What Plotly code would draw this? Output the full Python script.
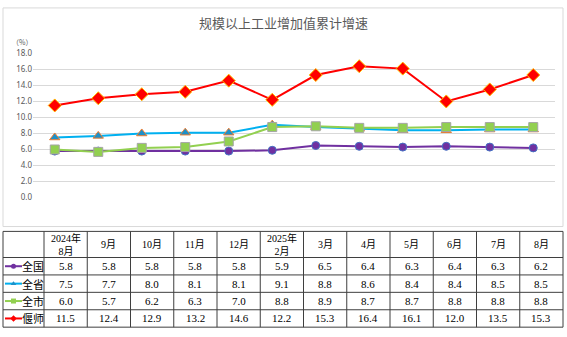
import plotly.graph_objects as go

W, H = 567, 337

# ---------------- data ----------------
months = ["2024年<br>8月", "9月", "10月", "11月", "12月", "2025年<br>2月",
          "3月", "4月", "5月", "6月", "7月", "8月"]
series_names = ["全国", "全省", "全市", "偃师"]
quanguo = [5.8, 5.8, 5.8, 5.8, 5.8, 5.9, 6.5, 6.4, 6.3, 6.4, 6.3, 6.2]
quansheng = [7.5, 7.7, 8.0, 8.1, 8.1, 9.1, 8.8, 8.6, 8.4, 8.4, 8.5, 8.5]
quanshi = [6.0, 5.7, 6.2, 6.3, 7.0, 8.8, 8.9, 8.7, 8.7, 8.8, 8.8, 8.8]
yanshi = [11.5, 12.4, 12.9, 13.2, 14.6, 12.2, 15.3, 16.4, 16.1, 12.0, 13.5, 15.3]
y_ticks = [0, 2, 4, 6, 8, 10, 12, 14, 16, 18]
title = "规模以上工业增加值累计增速"
unit = "（%）"

all_series = [quanguo, quansheng, quanshi, yanshi]

# ---------------- styles ----------------
styles = [
    dict(line="#7030A0", symbol="circle", fill="#7030A0", edge="#4472C4", size=8),
    dict(line="#00B0F0", symbol="triangle-up", fill="#1E90C8", edge="#ED7D31", size=9),
    dict(line="#92D050", symbol="square", fill="#92D050", edge="#A5A5A5", size=9),
    dict(line="#FF0000", symbol="diamond", fill="#FF0000", edge="#FFC000", size=10),
]

def fx(x):
    return x / W

def fy(y):
    return 1 - y / H

cats = [m.replace("<br>", "") for m in months]

fig = go.Figure()
for name, vals, st in zip(series_names, all_series, styles):
    fig.add_trace(go.Scatter(
        x=cats, y=vals, name=name, mode="lines+markers",
        line=dict(color=st["line"], width=2),
        marker=dict(symbol=st["symbol"], size=st["size"], color=st["fill"],
                    line=dict(color=st["edge"], width=1)),
        showlegend=False, cliponaxis=False,
    ))

# ---------------- table ----------------
tab_left, tab_right = 3, 563
col0_right = 44
ncol = len(months)
colw = (tab_right - col0_right) / ncol
col_edges = [col0_right + colw * i for i in range(ncol + 1)]
row_edges = [233, 260, 278, 296, 314, 332]

shapes = []
# outer chart border
shapes.append(dict(type="rect", xref="paper", yref="paper",
                   x0=fx(3), x1=fx(563), y0=fy(228), y1=fy(2),
                   line=dict(color="#D9D9D9", width=1)))
tcol = "#3F3F3F"
for ry in row_edges:
    shapes.append(dict(type="line", xref="paper", yref="paper",
                       x0=fx(tab_left), x1=fx(tab_right), y0=fy(ry), y1=fy(ry),
                       line=dict(color=tcol, width=1)))
for cx in [tab_left] + col_edges:
    shapes.append(dict(type="line", xref="paper", yref="paper",
                       x0=fx(cx), x1=fx(cx), y0=fy(row_edges[0]), y1=fy(row_edges[-1]),
                       line=dict(color=tcol, width=1)))

annotations = []
annotations.append(dict(text=title, xref="paper", yref="paper", x=fx(283), y=fy(17),
                        showarrow=False, xanchor="center", yanchor="middle",
                        font=dict(family="Noto Sans CJK SC", size=13, color="#595959")))
annotations.append(dict(text=unit, xref="paper", yref="paper", x=fx(22), y=fy(37),
                        showarrow=False, xanchor="center", yanchor="middle",
                        font=dict(family="Noto Sans CJK SC", size=7, color="#595959")))

serif = "Liberation Serif, Noto Sans CJK SC"
for i, m in enumerate(months):
    cx = (col_edges[i] + col_edges[i + 1]) / 2
    annotations.append(dict(text=m, xref="paper", yref="paper", x=fx(cx),
                            y=fy((row_edges[0] + row_edges[1]) / 2),
                            showarrow=False, xanchor="center", yanchor="middle",
                            font=dict(family=serif, size=10, color="#000000")))
for r, (name, vals) in enumerate(zip(series_names, all_series)):
    cy = (row_edges[r + 1] + row_edges[r + 2]) / 2
    annotations.append(dict(text=name, xref="paper", yref="paper", x=fx(33), y=fy(cy),
                            showarrow=False, xanchor="center", yanchor="middle",
                            font=dict(family="Noto Sans CJK SC", size=11, color="#000000")))
    for i, v in enumerate(vals):
        cx = (col_edges[i] + col_edges[i + 1]) / 2
        annotations.append(dict(text=f"{v:.1f}", xref="paper", yref="paper", x=fx(cx), y=fy(cy),
                                showarrow=False, xanchor="center", yanchor="middle",
                                font=dict(family="Liberation Serif", size=11, color="#000000")))

# legend keys in table (pixel overlay axes)
for r, st in enumerate(styles):
    cy = (row_edges[r + 1] + row_edges[r + 2]) / 2
    fig.add_trace(go.Scatter(x=[5, 22], y=[cy, cy], mode="lines", xaxis="x2", yaxis="y2",
                             line=dict(color=st["line"], width=2), showlegend=False,
                             hoverinfo="skip"))
    fig.add_trace(go.Scatter(x=[13.5], y=[cy], mode="markers", xaxis="x2", yaxis="y2",
                             marker=dict(symbol=st["symbol"], size=5, color=st["fill"]),
                             showlegend=False, hoverinfo="skip"))

fig.update_layout(
    width=W, height=H, margin=dict(l=0, r=0, t=0, b=0),
    paper_bgcolor="white", plot_bgcolor="rgba(0,0,0,0)",
    xaxis=dict(domain=[fx(33), fx(555)], range=[-0.5, 11.5], type="category",
               showticklabels=False, showgrid=False, zeroline=False, showline=False,
               ticks=""),
    yaxis=dict(domain=[fy(198), fy(49)], range=[0, 18], tickvals=y_ticks,
               tickformat=".1f", showgrid=True, gridcolor="#D9D9D9", gridwidth=1,
               zeroline=False, showline=False, ticks="",
               tickfont=dict(family="Noto Sans", size=8, color="#595959")),
    xaxis2=dict(domain=[0, 1], range=[0, W], visible=False, anchor="y2"),
    yaxis2=dict(domain=[0, 1], range=[H, 0], visible=False, anchor="x2"),
    shapes=shapes, annotations=annotations,
)

fig.write_html("out.html")
